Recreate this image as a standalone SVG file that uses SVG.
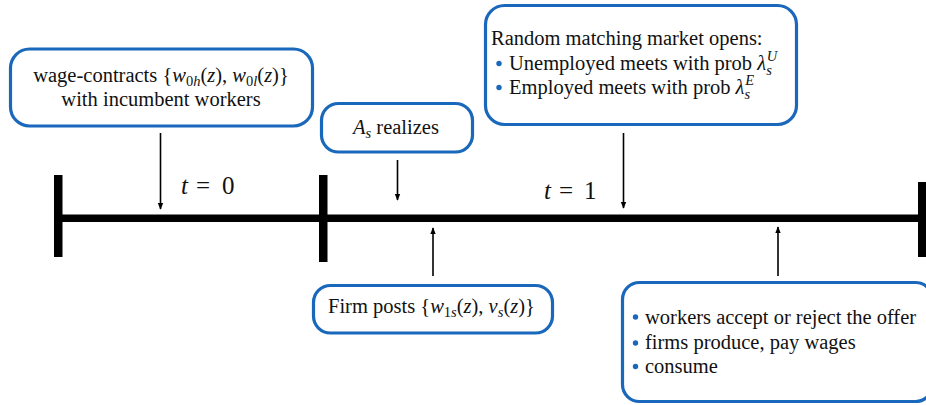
<svg xmlns="http://www.w3.org/2000/svg" width="926" height="405" viewBox="0 0 926 405">
<defs>
<style>
.box{fill:#fff;stroke:#1a68bb;stroke-width:3.2}
text{font-family:'Liberation Serif','DejaVu Serif',serif;font-size:20.5px;fill:#111}
.i{font-style:italic}
.s{font-size:14.5px}
.b{fill:#1a68bb}
.bar{fill:#000}
.arr{stroke:#000;stroke-width:1.6;fill:none}
.big{font-size:25px}
</style>
<marker id="ah" viewBox="0 0 10 10" refX="9" refY="5" markerWidth="7" markerHeight="8" markerUnits="userSpaceOnUse" orient="auto">
<path d="M0,1 L10,5 L0,9 Z" fill="#000"/>
</marker>
</defs>
<rect width="926" height="405" fill="#fff"/>

<g id="timeline">
<rect class="bar" x="54" y="214.5" width="868" height="7.5"/>
<rect class="bar" x="54" y="175" width="8.5" height="82"/>
<rect class="bar" x="319" y="175" width="8.5" height="87"/>
<rect class="bar" x="918" y="182" width="8" height="75"/>
<text class="big" y="194"><tspan class="i" x="181">t</tspan><tspan x="196">=</tspan><tspan x="222">0</tspan></text>
<text class="big" y="199"><tspan class="i" x="544">t</tspan><tspan x="559">=</tspan><tspan x="584">1</tspan></text>
</g>

<g id="connectors">
<line class="arr" x1="160.5" y1="133" x2="160.5" y2="209" marker-end="url(#ah)"/>
<line class="arr" x1="397.5" y1="160" x2="397.5" y2="200" marker-end="url(#ah)"/>
<line class="arr" x1="623.5" y1="133" x2="623.5" y2="208" marker-end="url(#ah)"/>
<line class="arr" x1="433" y1="276" x2="433" y2="228" marker-end="url(#ah)"/>
<line class="arr" x1="778" y1="276" x2="778" y2="227" marker-end="url(#ah)"/>
</g>

<g id="node-wage">
<rect class="box" x="10.5" y="49" width="302" height="77" rx="19"/>
<text x="161" y="82" text-anchor="middle">wage-contracts {<tspan class="i">w</tspan><tspan class="s" dy="4">0<tspan class="i">h</tspan></tspan><tspan dy="-4">(</tspan><tspan class="i">z</tspan>), <tspan class="i">w</tspan><tspan class="s" dy="4">0<tspan class="i">l</tspan></tspan><tspan dy="-4">(</tspan><tspan class="i">z</tspan>)}</text>
<text x="161" y="106" text-anchor="middle">with incumbent workers</text>
</g>

<g id="node-as">
<rect class="box" x="321.5" y="103.5" width="151" height="48.5" rx="17"/>
<text x="353" y="134"><tspan class="i">A</tspan><tspan class="s i" dy="4">s</tspan><tspan dy="-4"> realizes</tspan></text>
</g>

<g id="node-matching">
<rect class="box" x="485.5" y="5.5" width="311" height="119" rx="19"/>
<text x="491" y="45">Random matching market opens:</text>
<circle class="b" cx="499" cy="63.5" r="2.7"/>
<text x="509" y="70">Unemployed meets with prob <tspan class="i">λ</tspan><tspan class="s i" dy="5">s</tspan><tspan class="s i" dx="-5" dy="-14">U</tspan></text>
<circle class="b" cx="499" cy="87.5" r="2.7"/>
<text x="509" y="94">Employed meets with prob <tspan class="i">λ</tspan><tspan class="s i" dy="5">s</tspan><tspan class="s i" dx="-5" dy="-14">E</tspan></text>
</g>

<g id="node-firm">
<rect class="box" x="313.5" y="285.5" width="239" height="47.5" rx="17"/>
<text x="328" y="313">Firm posts {<tspan class="i">w</tspan><tspan class="s" dy="4">1<tspan class="i">s</tspan></tspan><tspan dy="-4">(</tspan><tspan class="i">z</tspan>), <tspan class="i">v</tspan><tspan class="s i" dy="4">s</tspan><tspan dy="-4">(</tspan><tspan class="i">z</tspan>)}</text>
</g>

<g id="node-outcomes">
<rect class="box" x="622.5" y="282.5" width="310" height="119" rx="17"/>
<circle class="b" cx="635.5" cy="317" r="2.7"/>
<text x="645" y="323.5">workers accept or reject the offer</text>
<circle class="b" cx="635.5" cy="343" r="2.7"/>
<text x="645" y="349">firms produce, pay wages</text>
<circle class="b" cx="635.5" cy="366.5" r="2.7"/>
<text x="645" y="373">consume</text>
</g>
</svg>
